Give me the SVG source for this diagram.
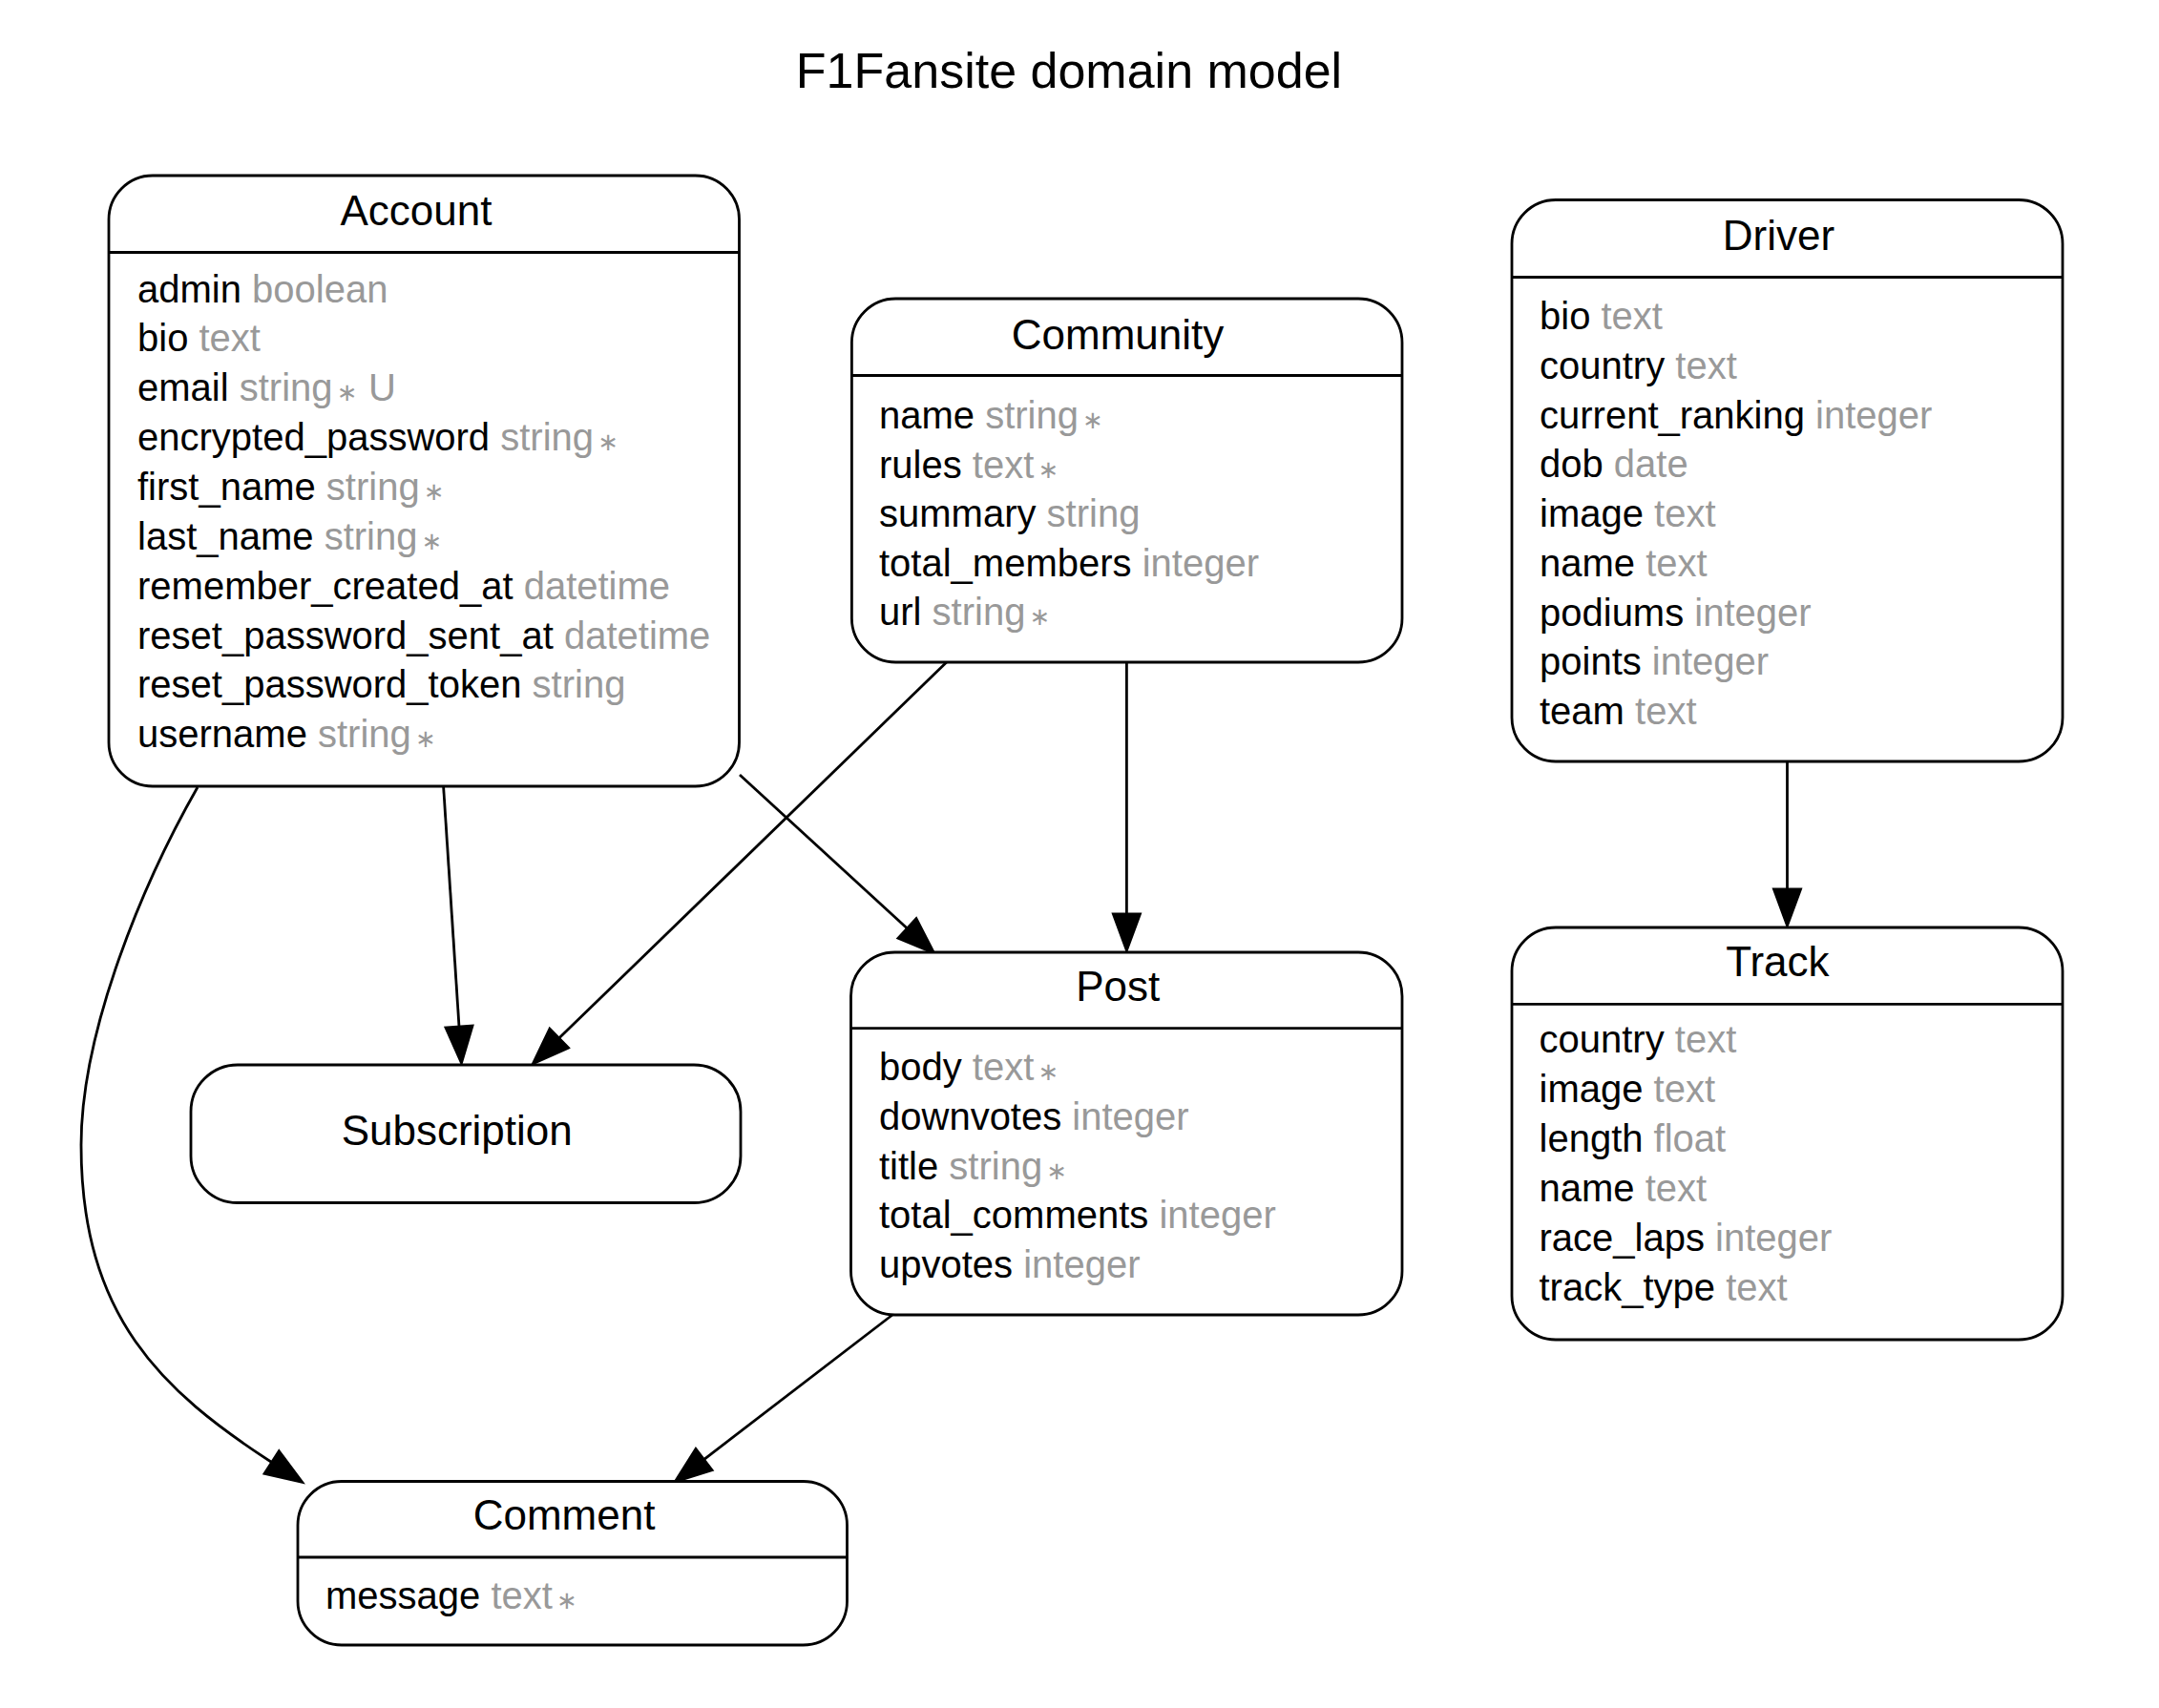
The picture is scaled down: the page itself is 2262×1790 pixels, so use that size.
<svg xmlns="http://www.w3.org/2000/svg" width="2262" height="1790" viewBox="0 0 2262 1790">
<style>
  .box { fill: #fff; stroke: #000; stroke-width: 2.8; }
  .sep { stroke: #000; stroke-width: 2.8; }
  .edge { fill: none; stroke: #000; stroke-width: 2.8; }
  .title { font-family: "Liberation Sans", Arial, Helvetica, sans-serif; font-size: 44px; fill: #000; text-anchor: middle; }
  .attr { font-family: "Liberation Sans", Arial, Helvetica, sans-serif; font-size: 40px; fill: #000; }
  .t { fill: #999999; }
  .a { fill: #999999; font-family: "DejaVu Sans", sans-serif; font-size: 26px; }
  .gtitle { font-family: "Liberation Sans", Arial, Helvetica, sans-serif; font-size: 52px; fill: #000; text-anchor: middle; }
</style>
<defs>
  <marker id="arr" markerUnits="userSpaceOnUse" viewBox="-3 -3 46 34" markerWidth="46" markerHeight="34" refX="0" refY="14" orient="auto" overflow="visible">
    <path d="M0,0 L38,14 L0,28 Z" fill="#000" stroke="#000" stroke-width="2.8"/>
  </marker>
</defs>
<rect width="2262" height="1790" fill="#fff"/>
<text class="gtitle" x="1120" y="92">F1Fansite domain model</text>

<g id="connectors">
  <path class="edge" marker-end="url(#arr)" d="M464.6,824 L481,1076"/>
  <path class="edge" marker-end="url(#arr)" d="M991.7,694 L585.7,1088.1"/>
  <path class="edge" marker-end="url(#arr)" d="M775,812 L950.5,973"/>
  <path class="edge" marker-end="url(#arr)" d="M1180.4,694 L1180.4,958"/>
  <path class="edge" marker-end="url(#arr)" d="M1872.5,798 L1872.5,932"/>
  <path class="edge" marker-end="url(#arr)" d="M935,1378 L737.5,1529.6"/>
  <path class="edge" marker-end="url(#arr)" d="M207,825 C150,925 85,1080 85,1200 C85,1380 170,1458 284.7,1532.5"/>
</g>

<g id="node-account">
  <rect class="box" x="114" y="184" width="660.5" height="640" rx="46" ry="46"/>
  <line class="sep" x1="114" y1="264.5" x2="774.5" y2="264.5"/>
  <text class="title" x="436" y="236">Account</text>
  <text class="attr" x="144" y="316.5">admin <tspan class="t">boolean</tspan></text>
  <text class="attr" x="144" y="368.4">bio <tspan class="t">text</tspan></text>
  <text class="attr" x="144" y="420.2">email <tspan class="t">string</tspan> <tspan class="a" dx="-7">∗</tspan><tspan class="t" x="386">U</tspan></text>
  <text class="attr" x="144" y="472.1">encrypted_password <tspan class="t">string</tspan> <tspan class="a" dx="-7">∗</tspan></text>
  <text class="attr" x="144" y="523.9">first_name <tspan class="t">string</tspan> <tspan class="a" dx="-7">∗</tspan></text>
  <text class="attr" x="144" y="575.8">last_name <tspan class="t">string</tspan> <tspan class="a" dx="-7">∗</tspan></text>
  <text class="attr" x="144" y="627.6">remember_created_at <tspan class="t">datetime</tspan></text>
  <text class="attr" x="144" y="679.5">reset_password_sent_at <tspan class="t">datetime</tspan></text>
  <text class="attr" x="144" y="731.3">reset_password_token <tspan class="t">string</tspan></text>
  <text class="attr" x="144" y="783.2">username <tspan class="t">string</tspan> <tspan class="a" dx="-7">∗</tspan></text>
</g>

<g id="node-community">
  <rect class="box" x="892.4" y="313" width="576.6" height="381" rx="46" ry="46"/>
  <line class="sep" x1="892.4" y1="393.5" x2="1469" y2="393.5"/>
  <text class="title" x="1171" y="366">Community</text>
  <text class="attr" x="921" y="449">name <tspan class="t">string</tspan> <tspan class="a" dx="-7">∗</tspan></text>
  <text class="attr" x="921" y="500.5">rules <tspan class="t">text</tspan> <tspan class="a" dx="-7">∗</tspan></text>
  <text class="attr" x="921" y="552">summary <tspan class="t">string</tspan></text>
  <text class="attr" x="921" y="603.5">total_members <tspan class="t">integer</tspan></text>
  <text class="attr" x="921" y="655">url <tspan class="t">string</tspan> <tspan class="a" dx="-7">∗</tspan></text>
</g>

<g id="node-driver">
  <rect class="box" x="1584" y="209.5" width="577" height="588.5" rx="46" ry="46"/>
  <line class="sep" x1="1584" y1="290.5" x2="2161" y2="290.5"/>
  <text class="title" x="1863.4" y="261.6">Driver</text>
  <text class="attr" x="1613" y="345">bio <tspan class="t">text</tspan></text>
  <text class="attr" x="1613" y="396.8">country <tspan class="t">text</tspan></text>
  <text class="attr" x="1613" y="448.5">current_ranking <tspan class="t">integer</tspan></text>
  <text class="attr" x="1613" y="500.3">dob <tspan class="t">date</tspan></text>
  <text class="attr" x="1613" y="552">image <tspan class="t">text</tspan></text>
  <text class="attr" x="1613" y="603.8">name <tspan class="t">text</tspan></text>
  <text class="attr" x="1613" y="655.5">podiums <tspan class="t">integer</tspan></text>
  <text class="attr" x="1613" y="707.3">points <tspan class="t">integer</tspan></text>
  <text class="attr" x="1613" y="759">team <tspan class="t">text</tspan></text>
</g>

<g id="node-track">
  <rect class="box" x="1584" y="972" width="577" height="432" rx="46" ry="46"/>
  <line class="sep" x1="1584" y1="1052.4" x2="2161" y2="1052.4"/>
  <text class="title" x="1862.4" y="1022.5">Track</text>
  <text class="attr" x="1612.5" y="1102.6">country <tspan class="t">text</tspan></text>
  <text class="attr" x="1612.5" y="1154.6">image <tspan class="t">text</tspan></text>
  <text class="attr" x="1612.5" y="1206.6">length <tspan class="t">float</tspan></text>
  <text class="attr" x="1612.5" y="1258.5">name <tspan class="t">text</tspan></text>
  <text class="attr" x="1612.5" y="1310.5">race_laps <tspan class="t">integer</tspan></text>
  <text class="attr" x="1612.5" y="1362.5">track_type <tspan class="t">text</tspan></text>
</g>

<g id="node-post">
  <rect class="box" x="891.5" y="998" width="577.5" height="380" rx="46" ry="46"/>
  <line class="sep" x1="891.5" y1="1077.7" x2="1469" y2="1077.7"/>
  <text class="title" x="1171.3" y="1049.3">Post</text>
  <text class="attr" x="921" y="1131.7">body <tspan class="t">text</tspan> <tspan class="a" dx="-7">∗</tspan></text>
  <text class="attr" x="921" y="1183.6">downvotes <tspan class="t">integer</tspan></text>
  <text class="attr" x="921" y="1235.5">title <tspan class="t">string</tspan> <tspan class="a" dx="-7">∗</tspan></text>
  <text class="attr" x="921" y="1287.4">total_comments <tspan class="t">integer</tspan></text>
  <text class="attr" x="921" y="1339.3">upvotes <tspan class="t">integer</tspan></text>
</g>

<g id="node-subscription">
  <rect class="box" x="200" y="1116" width="576" height="144.5" rx="49" ry="49"/>
  <text class="title" x="478.7" y="1200">Subscription</text>
</g>

<g id="node-comment">
  <rect class="box" x="312" y="1552.5" width="575.5" height="171.5" rx="46" ry="46"/>
  <line class="sep" x1="312" y1="1632" x2="887.5" y2="1632"/>
  <text class="title" x="591" y="1603">Comment</text>
  <text class="attr" x="341" y="1685.8">message <tspan class="t">text</tspan> <tspan class="a" dx="-7">∗</tspan></text>
</g>
</svg>
